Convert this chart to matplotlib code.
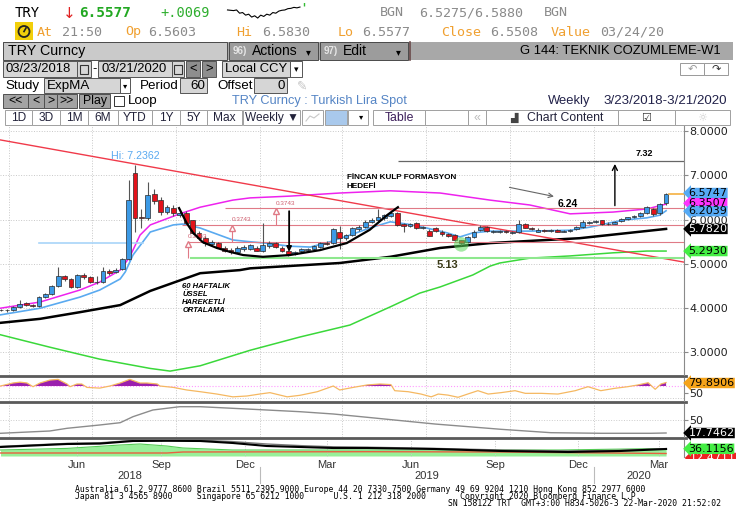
import numpy as np
import matplotlib
matplotlib.use("Agg")
import matplotlib.pyplot as plt
from matplotlib.patches import Rectangle, Circle

plt.rcParams['font.family'] = ['Liberation Sans', 'DejaVu Sans']

# ---- weekly candles, 23 Mar 2018 .. 20 Mar 2020 (105 weeks) ----
start_date = np.datetime64('2018-03-23')
opens = [
    3.97, 3.97, 3.96, 4.03, 4.12, 4.08, 4.05, 4.25, 4.32, 4.50,
    4.72, 4.66, 4.48, 4.75, 4.70, 4.59, 4.59, 4.84, 4.81, 4.88,
    5.11, 7.06, 6.05, 6.04, 6.58, 6.44, 6.17, 6.27, 6.10, 6.16,
    5.98, 5.70, 5.58, 5.46, 5.48, 5.37, 5.32, 5.27, 5.33, 5.34,
    5.35, 5.30, 5.40, 5.47, 5.36, 5.29, 5.23, 5.28, 5.31, 5.34,
    5.39, 5.48, 5.47, 5.73, 5.58, 5.65, 5.78, 5.84, 5.95, 6.00,
    6.03, 6.08, 6.16, 5.89, 5.85, 5.92, 5.80, 5.74, 5.80, 5.73,
    5.67, 5.66, 5.53, 5.50, 5.61, 5.76, 5.84, 5.71, 5.72, 5.74,
    5.70, 5.72, 5.90, 5.82, 5.73, 5.77, 5.75, 5.77, 5.73, 5.74,
    5.78, 5.83, 5.93, 5.95, 5.98, 5.90, 5.91, 5.97, 6.01, 6.05,
    6.08, 6.15, 6.24, 6.15, 6.37]
closes = [
    3.95, 3.95, 4.03, 4.09, 4.07, 4.05, 4.25, 4.32, 4.50, 4.72,
    4.66, 4.48, 4.75, 4.70, 4.59, 4.60, 4.84, 4.79, 4.87, 5.11,
    6.44, 6.03, 6.03, 6.55, 6.42, 6.17, 6.28, 6.14, 6.16, 5.92,
    5.70, 5.58, 5.47, 5.50, 5.37, 5.30, 5.27, 5.37, 5.38, 5.42,
    5.30, 5.42, 5.47, 5.39, 5.28, 5.22, 5.27, 5.33, 5.34, 5.40,
    5.48, 5.46, 5.78, 5.58, 5.65, 5.80, 5.84, 5.95, 6.00, 6.06,
    6.10, 6.14, 5.88, 5.85, 5.89, 5.81, 5.83, 5.64, 5.74, 5.67,
    5.64, 5.55, 5.47, 5.61, 5.73, 5.84, 5.74, 5.74, 5.74, 5.72,
    5.73, 5.90, 5.82, 5.79, 5.77, 5.75, 5.76, 5.73, 5.75, 5.77,
    5.83, 5.95, 5.95, 5.96, 5.90, 5.91, 5.94, 6.01, 6.05, 6.08,
    6.15, 6.29, 6.13, 6.35, 6.58]
highs = [
    3.99, 3.99, 4.05, 4.19, 4.14, 4.10, 4.27, 4.35, 4.52, 4.93,
    4.76, 4.69, 4.78, 4.79, 4.72, 4.72, 4.93, 4.88, 4.90, 5.14,
    6.89, 7.24, 6.23, 6.86, 6.69, 6.50, 6.32, 6.32, 6.22, 6.20,
    6.00, 5.75, 5.62, 5.53, 5.50, 5.40, 5.35, 5.41, 5.43, 5.45,
    5.40, 5.93, 5.52, 5.50, 5.40, 5.31, 5.30, 5.36, 5.37, 5.43,
    5.50, 5.52, 5.82, 5.86, 5.68, 5.83, 5.87, 5.98, 6.03, 6.25,
    6.12, 6.18, 6.18, 5.92, 5.93, 5.95, 5.86, 5.78, 5.83, 5.76,
    5.70, 5.68, 5.55, 5.63, 5.76, 5.87, 5.86, 5.77, 5.77, 5.77,
    5.75, 5.98, 5.93, 5.84, 5.80, 5.79, 5.79, 5.79, 5.77, 5.79,
    5.85, 5.98, 5.97, 5.98, 6.00, 5.94, 5.96, 6.03, 6.07, 6.10,
    6.17, 6.31, 6.26, 6.38, 6.60]
lows = [
    3.93, 3.92, 3.94, 4.01, 4.05, 4.03, 4.03, 4.23, 4.30, 4.47,
    4.62, 4.45, 4.46, 4.66, 4.56, 4.55, 4.57, 4.76, 4.79, 4.86,
    5.08, 5.73, 5.80, 6.00, 6.35, 6.10, 6.12, 6.08, 6.05, 5.90,
    5.68, 5.55, 5.40, 5.43, 5.35, 5.27, 5.22, 5.25, 5.30, 5.31,
    5.28, 5.27, 5.37, 5.35, 5.26, 5.18, 5.21, 5.26, 5.29, 5.32,
    5.37, 5.43, 5.45, 5.33, 5.55, 5.62, 5.75, 5.82, 5.93, 5.97,
    6.00, 6.05, 5.85, 5.73, 5.83, 5.78, 5.78, 5.62, 5.72, 5.64,
    5.61, 5.52, 5.42, 5.48, 5.59, 5.74, 5.72, 5.69, 5.70, 5.70,
    5.68, 5.70, 5.80, 5.77, 5.71, 5.73, 5.73, 5.71, 5.71, 5.72,
    5.76, 5.81, 5.91, 5.93, 5.87, 5.88, 5.89, 5.95, 5.99, 6.03,
    6.06, 6.13, 6.08, 6.10, 6.34]

# ---- study lines (week index, value) ----
fast_x = [0, 6.2, 12.4, 15.5, 18.7, 19.5, 20.7, 23.4, 27, 28.5, 31.2, 36.3, 39, 41.3,
          45.2, 48.4, 51.5, 54.6, 57.7, 60.9, 63.5, 66.6, 69.8, 71.8, 73.8, 76.5,
          82.7, 89, 92.1, 97.3, 101, 103, 104]
fast_y = [3.85, 4.0, 4.25, 4.41, 4.66, 4.82, 5.2, 5.72, 5.88, 5.9, 5.81, 5.54, 5.5, 5.47,
          5.4, 5.38, 5.5, 5.65, 5.81, 5.95, 5.9, 5.81, 5.70, 5.61, 5.70, 5.74,
          5.74, 5.76, 5.83, 5.99, 6.04, 6.1, 6.20]
mag_x = [0, 6.2, 12.4, 15.5, 18.7, 20.2, 21.8, 23.4, 28, 31.2, 36.3, 39, 45.2, 53,
         60.9, 68.7, 76.5, 82.7, 89, 95.7, 101, 104]
mag_y = [4.0, 4.14, 4.41, 4.59, 4.86, 5.16, 5.65, 5.88, 6.13, 6.28, 6.44, 6.49, 6.53, 6.6,
         6.65, 6.6, 6.44, 6.33, 6.13, 6.17, 6.24, 6.35]
ema60_x = [0, 6.2, 12.4, 18.7, 23.4, 31.2, 37.4, 39, 53, 60.9, 68.7, 76.5, 90.5, 104]
ema60_y = [3.67, 3.76, 3.91, 4.07, 4.39, 4.79, 4.86, 4.90, 5.02, 5.16, 5.36, 5.47, 5.58, 5.79]
green_x = [0, 7.7, 15.5, 23.4, 26.5, 31.2, 39, 46.8, 54.6, 60.9, 65.5, 68.7, 73.8, 76.5,
           78, 82.7, 89, 95.7, 101, 104]
green_y = [3.40, 3.12, 2.85, 2.64, 2.58, 2.70, 3.05, 3.35, 3.62, 4.03, 4.34, 4.48, 4.75, 4.95,
           5.02, 5.13, 5.18, 5.25, 5.29, 5.29]

# ---- lower panels ----
rsi_x = [0, 1.95, 3.05, 4.14, 5.08, 6.17, 7.73, 8.98, 10.4, 10.86, 11.95, 12.7, 13.5, 15.5,
         17.1, 18.7, 20.2, 21.8, 22.9, 24.5, 24.9, 27, 29.1, 31.2, 33.8, 36.3, 38.5, 40.5,
         42.1, 44.8, 46.8, 49.5, 52, 53, 55.1, 57.3, 59.3, 61, 61.6, 63.7, 65.7, 67.3, 68.4,
         69.9, 71.5, 73, 74.6, 76.2, 78.2, 80.4, 82, 84.5, 87.1, 89.8, 91.8, 93.8, 96, 98,
         99.6, 101.2, 102.3, 103.2, 104]
rsi_y = [70, 78.6, 81, 78.6, 68, 78.6, 87, 89, 75.7, 68, 75.7, 75.7, 66, 64,
         70, 78.6, 89, 78.6, 78.6, 75.7, 70, 66, 58.6, 53.7, 47, 39, 41.4, 47,
         51, 39, 43.4, 53.7, 70, 58.6, 66, 73, 75.7, 74, 56.6, 53.7, 47, 39, 47,
         44, 37.7, 47, 56.6, 47, 51, 56.6, 49, 49, 47, 56.6, 68, 56.6, 63.4, 68,
         73, 79.4, 60.6, 75.7, 79.9]
adx_x = [0, 7.7, 10.4, 15.5, 18.7, 20.7, 23.8, 28, 31.2, 36.3, 41.6, 46.8, 52, 57.3,
         67.9, 78.2, 86, 93.8, 101.6, 104]
adx_y = [17, 22.7, 29.4, 37.6, 43.3, 58.2, 74.8, 83, 83, 79, 74.8, 70.6, 64.9, 56.7,
         40, 26.9, 18.5, 17, 17, 17.75]
dmi_x = [0, 10.4, 15.5, 20.7, 26, 31.2, 36.3, 41.6, 46.8, 52, 57.3, 67.9, 78.2, 88.7, 96.8, 104]
dmi_blk = [45, 60, 62, 75, 76, 75, 65, 50, 45, 40, 40, 35, 25, 20, 25, 35]
dmi_gry = [48, 63, 66, 78, 80, 79, 72, 60, 52, 46, 44, 38, 30, 25, 28, 37]
dplus_x = [0, 10.4, 18.7, 21.8, 26, 28.5, 36.3, 57.3, 78.2, 87.4, 101.2, 104]
dplus_y = [30, 38, 55, 60, 50, 40, 30, 30, 30, 30, 36.5, 36.1]
dminus_x = [0, 26, 28.5, 57.3, 78, 104]
dminus_y = [15, 15, 20, 21.5, 20, 12.5]

# ---- annotations ----
fib_levels = [5.13, 5.5043, 5.8786, 6.2529]
fib_start = [29.6, 29.3, 28.4, 35.1]
cup_x = [27.9, 29.1, 30.1, 31.6, 33.8, 35.9, 37.9, 41.0, 45.2, 49.9, 54.1, 57.7, 60.4, 62.1]
cup_y = [6.26, 5.92, 5.70, 5.49, 5.36, 5.27, 5.20, 5.16, 5.20, 5.31, 5.47, 5.77, 6.10, 6.28]
trend_x = [-0.08, 106.8]
trend_y = [7.80, 5.04]
target = 7.32
spark = [0.62, 0.60, 0.58, 0.62, 0.42, 0.46, 0.30, 0.36, 0.18, 0.26, 0.12, 0.30, 0.22,
         0.36, 0.30, 0.46, 0.42, 0.55, 0.60, 0.62, 0.70, 0.72, 0.78, 0.75, 0.80]

W, H = 736, 530
fig = plt.figure(figsize=(W / 100, H / 100), dpi=100)
fig.patch.set_facecolor('white')


def axes_px(x0, y0, x1, y1):
    return fig.add_axes([x0 / W, 1 - y1 / H, (x1 - x0) / W, (y1 - y0) / H])


def week_pos(d):
    return (np.datetime64(d) - start_date) / np.timedelta64(7, 'D')


bg = axes_px(0, 0, W, H)
bg.set_xlim(0, W)
bg.set_ylim(H, 0)
bg.axis('off')


def box(x0, y0, x1, y1, fc, ec='#555555', lw=0.7, z=1):
    bg.add_patch(Rectangle((x0, y0), x1 - x0, y1 - y0, fc=fc, ec=ec, lw=lw, zorder=z))


def put(x, y, s, size=9.4, color='black', **kw):
    bg.text(x, y, s, fontsize=size, color=color, va='center', zorder=3, **kw)


MONO = 'DejaVu Sans Mono'
# header line 1 and 2
put(15, 13, 'TRY', size=10, family=MONO)
put(63, 13, '↓', size=11, color='#e02020', family='DejaVu Sans')
put(79, 13, '6.5577', size=10.4, color='#22a822', family=MONO, weight='bold')
put(160, 13, '+.0069', size=9.8, color='#2eae2e', family=MONO)
put(380, 13, 'BGN', size=9.6, color='#8a8a8a', family=MONO)
put(419, 13, '6.5275/6.5880', size=9.6, color='#8a8a8a', family=MONO)
put(544, 13, 'BGN', size=9.6, color='#8a8a8a', family=MONO)
sp = axes_px(226, 3, 306, 20)
sp.plot(range(len(spark)), spark, color='black', lw=0.8)
sp.plot([len(spark) + 0.4], [0.98], marker='|', color='#33bb33', ms=3)
sp.set_xlim(-0.5, len(spark) + 1)
sp.set_ylim(0, 1.05)
sp.axis('off')

box(15, 22, 33, 40, '#f2cf0a', ec='none')
bg.add_patch(Circle((24, 31.5), 5.5, fc='none', ec='#222222', lw=1.3, zorder=3))
bg.plot([24, 26], [31.5, 28], color='#222222', lw=1.2, zorder=3)
row2 = [(37, 'At', '#f0a030'), (62, '21:50', '#8a8a8a'), (125, 'Op', '#f0a030'),
        (148, '6.5603', '#8a8a8a'), (236, 'Hi', '#f0a030'), (262, '6.5830', '#8a8a8a'),
        (338, 'Lo', '#f0a030'), (362, '6.5577', '#8a8a8a'), (441, 'Close', '#f0a030'),
        (490, '6.5508', '#8a8a8a'), (551, 'Value', '#f0a030'), (600, '03/24/20', '#8a8a8a')]
for x, s, c in row2:
    put(x, 32, s, size=9.6, color=c, family=MONO)

# header bar
box(3, 42, 733, 60, '#a8a8a8', ec='none')
box(3, 42, 227, 60, '#cacaca', ec='#4a4a4a')
put(8, 51, 'TRY Curncy', size=10.3)
box(229, 42, 318, 60, '#9c9c9c', ec='#4a4a4a')
put(233, 51, '96)', size=7, color='#e6e6e6', weight='bold')
put(252, 51, 'Actions', size=10)
put(306, 52, '▾', size=7)
box(320, 42, 408, 60, '#9c9c9c', ec='#4a4a4a')
put(324, 51, '97)', size=7, color='#e6e6e6', weight='bold')
put(343, 51, 'Edit', size=10)
put(396, 52, '▾', size=7)
bg.plot([410, 410], [42, 60], color='#6a4a4a', lw=1.2, zorder=3)
put(721, 51, 'G 144: TEKNIK COZUMLEME-W1', size=9.4, ha='right')

# date row
box(3, 61, 77, 77, '#d6d6d6')
put(6, 69, '03/23/2018', size=9.4)
box(77, 61, 91, 77, '#d6d6d6')
box(80, 65, 88, 74, 'none', ec='#333333', lw=0.8, z=2)
put(92, 69, '-', size=9.4)
box(98, 61, 172, 77, '#d6d6d6')
put(101, 69, '03/21/2020', size=9.4)
box(172, 61, 184, 77, '#d6d6d6')
box(174, 65, 182, 74, 'none', ec='#333333', lw=0.8, z=2)
box(186, 61, 200, 77, '#8e8e8e')
put(193, 69, '<', ha='center')
box(202, 61, 216, 77, '#8e8e8e')
put(209, 69, '>', ha='center')
box(222, 61, 290, 77, '#d6d6d6')
put(225, 69, 'Local CCY', size=9.4)
box(290, 61, 302, 77, 'white')
put(296, 70, '▾', size=6.5, ha='center')
box(680, 63, 704, 75, 'white', ec='#999999')
put(692, 69, '↶', size=8, color='#9a9a9a', ha='center', family='DejaVu Sans')
box(704, 63, 728, 75, 'white', ec='#999999')
put(716, 69, '↷', size=8, color='#333333', ha='center', family='DejaVu Sans')

# study row
put(5, 86, 'Study', size=9.6)
box(44, 78, 120, 93, '#d6d6d6')
put(47, 86, 'ExpMA', size=9.6)
box(120, 78, 130, 93, 'white')
put(125, 87, '▾', size=6, ha='center')
put(140, 86, 'Period', size=9.6)
box(180, 78, 207, 93, '#d6d6d6')
put(205, 86, '60', size=9.6, ha='right')
put(217, 86, 'Offset', size=9.6)
box(254, 78, 287, 93, '#d6d6d6')
put(285, 86, '0', size=9.6, ha='right')
put(297, 86, '✎', size=9, color='#c4c4c4', family='DejaVu Sans')

# play row
for x0, x1, s in [(3, 28, '<<'), (28, 44, '<'), (44, 57, '>'), (57, 77, '>>'), (79, 110, 'Play')]:
    box(x0, 94, x1, 108, '#a3a3a3', ec='#4f4f4f')
    put((x0 + x1) / 2, 101, s, size=8.8, ha='center')
box(114, 96, 124, 106, 'white', ec='#333333')
put(128, 101, 'Loop', size=9.6)
put(232, 101, 'TRY Curncy : Turkish Lira Spot', size=9.2, color='#5585c5')
put(548, 101, 'Weekly', size=9.4, color='#22224a')
put(603, 101, '3/23/2018-3/21/2020', size=9.6, color='#22224a')

# toolbar
tools = [(5, 32, '1D'), (32, 60, '3D'), (60, 88, '1M'), (88, 118, '6M'), (118, 152, 'YTD'),
         (152, 180, '1Y'), (180, 207, '5Y'), (207, 242, 'Max'), (243, 300, 'Weekly ▼')]
for x0, x1, s in tools:
    box(x0, 110, x1, 125, 'white', ec='#a0a0a0')
    put((x0 + x1) / 2, 118, s, size=8.6, color='#22223a', ha='center')
box(302, 110, 323, 125, 'white', ec='#a0a0a0')
bg.plot([306, 310, 314, 319], [121, 116, 118, 114], color='#c8c8c8', lw=0.8, zorder=3)
box(325, 110, 347, 125, '#a9c9ec', ec='#a0a0a0')
box(348, 110, 368, 125, 'white', ec='#a0a0a0')
put(361, 118, '▾', size=6, ha='center')
box(373, 110, 425, 125, 'white', ec='#a0a0a0')
put(399, 118, 'Table', size=8.8, color='#3c1e5a', ha='center')
box(425, 110, 468, 125, 'white', ec='#a0a0a0')
box(468, 110, 486, 125, 'white', ec='#a0a0a0')
put(477, 118, '«', size=9, color='#bbbbbb', ha='center')
box(486, 110, 618, 125, 'white', ec='#a0a0a0')
put(527, 118, 'Chart Content', size=8.8, color='#22223a')
put(510, 118, '▟', size=7, color='#444444', family='DejaVu Sans')
box(618, 110, 675, 125, 'white', ec='#a0a0a0')
put(646, 118, '☑', size=8, color='#333333', ha='center', family='DejaVu Sans')
box(675, 110, 730, 125, 'white', ec='#a0a0a0')
put(702, 118, '☼', size=8, color='#cccccc', ha='center', family='DejaVu Sans')

# panel separators and footer
for y in [376, 402, 438]:
    bg.plot([0, 686], [y, y], color='#5a5a5a', lw=2.0, zorder=2)
bg.text(690, 458, '12.4711', fontsize=8, family='DejaVu Sans', color='white', va='center',
        bbox=dict(boxstyle='larrow,pad=0.02', fc='#ee2222', ec='none'), zorder=4)
box(685, 458.5, 736, 472, 'white', ec='none', z=5)

foot = ['Australia 61 2 9777 8600 Brazil 5511 2395 9000 Europe 44 20 7330 7500 Germany 49 69 9204 1210 Hong Kong 852 2977 6000',
        'Japan 81 3 4565 8900     Singapore 65 6212 1000      U.S. 1 212 318 2000       Copyright 2020 Bloomberg Finance L.P.']
put(75, 489.5, foot[0], size=5.9, family=MONO)
put(75, 496.5, foot[1], size=5.9, family=MONO)
put(448, 503.5, 'SN 158122 TRT  GMT+3:00 H834-5026-3 22-Mar-2020 21:52:02', size=5.9, family=MONO)

# ---- chart panels ----
x_lo, x_hi = -0.08, 106.8
quarters = [week_pos(d) for d in ['2018-04-01', '2018-07-01', '2018-10-01', '2019-01-01',
                                  '2019-04-01', '2019-07-01', '2019-10-01', '2020-01-01']]


def style(a, ylim):
    a.set_facecolor('none')
    a.set_xlim(x_lo, x_hi)
    a.set_ylim(*ylim)
    for s in ['top', 'left', 'bottom']:
        a.spines[s].set_visible(False)
    a.spines['right'].set_color('#8a8a8a')
    a.spines['right'].set_linewidth(0.8)
    a.yaxis.tick_right()
    a.tick_params(axis='y', direction='out', length=3, width=0.8, colors='#8a8a8a',
                  labelcolor='#222222', labelsize=8, pad=1)
    a.set_xticks(quarters)
    a.tick_params(axis='x', length=0, labelbottom=False)
    a.grid(True, axis='x', ls=':', color='#c8c8c8', lw=0.7)
    for lab in a.get_yticklabels():
        lab.set_family('DejaVu Sans')


def tag(a, v, s, fc, tc='black'):
    a.annotate(s, xy=(1, v), xycoords=('axes fraction', 'data'), xytext=(3.2, 0),
               textcoords='offset points', ha='left', va='center', fontsize=8, color=tc,
               family='DejaVu Sans', bbox=dict(boxstyle='larrow,pad=0.02', fc=fc, ec='none'),
               annotation_clip=False, zorder=10)


ax = axes_px(0, 126, 684, 375)
style(ax, (2.492, 8.113))
ax.set_yticks([3, 4, 5, 6, 7, 8])
ax.set_yticklabels(['%.4f' % v for v in [3, 4, 5, 6, 7, 8]], family='DejaVu Sans')
ax.grid(True, axis='y', ls=':', color='#c8c8c8', lw=0.7)

o = np.array(opens)
c = np.array(closes)
wk = np.arange(len(c))
up = c >= o
ax.vlines(wk, lows, highs, color='#555555', lw=0.8, zorder=3)
ax.bar(wk, np.maximum(np.abs(c - o), 0.012), bottom=np.minimum(o, c), width=0.75,
       color=np.where(up, '#3c9ae6', '#e3121b'), edgecolor='#2b2b2b', linewidth=0.5, zorder=4)

ax.plot(green_x, green_y, color='#3ad83a', lw=1.1, zorder=2)
ax.plot(ema60_x, ema60_y, color='black', lw=1.8, zorder=2)
ax.plot(mag_x, mag_y, color='#ee22ee', lw=1.1, zorder=2)
ax.plot(fast_x, fast_y, color='#5aaaf0', lw=1.2, zorder=2)
ax.plot(trend_x, trend_y, color='#f03a4a', lw=1.0, zorder=2)
ax.plot([6, 22.3], [5.47, 5.47], color='#a8d4f8', lw=1.2, zorder=2)

for lev, x0 in zip(fib_levels, fib_start):
    col = '#8ee88e' if lev == fib_levels[0] else '#e07a86'
    ax.hlines(lev, x0, x_hi, color=col, lw=1.5 if lev == fib_levels[0] else 0.8, zorder=2)
for xv, k in [(29.3, 0), (36.1, 1), (43.05, 2)]:
    ax.vlines(xv, fib_levels[k], fib_levels[k + 1], color='#e07a86', lw=0.8, zorder=2)
    ax.plot(xv, fib_levels[k + 1] - 0.06, marker='^', mfc='white', mec='#e07a86', ms=4.5, zorder=5)
    ax.text(xv, fib_levels[k + 1] + 0.06, '%.4f' % (fib_levels[k + 1] - fib_levels[k]),
            fontsize=4.6, color='#d06070', va='bottom', zorder=5)

ax.plot(cup_x, cup_y, color='black', lw=1.6, zorder=5)
ax.annotate('', xy=(45.1, 5.21), xytext=(45.1, fib_levels[3]),
            arrowprops=dict(arrowstyle='-|>', color='black', lw=1.3, mutation_scale=7), zorder=6)
ax.hlines(target, 62.1, x_hi, color='#666666', lw=0.9, zorder=2)
ax.annotate('', xy=(96, target), xytext=(96, fib_levels[3]),
            arrowprops=dict(arrowstyle='->', color='black', lw=1.0, mutation_scale=9), zorder=6)
ax.annotate('', xy=(86.9, 6.51), xytext=(79.1, 6.74),
            arrowprops=dict(arrowstyle='->', color='#666666', lw=0.8, mutation_scale=8), zorder=6)
ax.text(87.1, 6.36, '6.24', fontsize=7.5, weight='bold', va='center', zorder=6)
ax.text(99.2, 7.50, '7.32', fontsize=6.5, weight='bold', va='center', zorder=6)
ax.text(68.2, 4.98, '5.13', fontsize=8, weight='bold', color='#3a3a18', va='center', zorder=6)
ax.text(54.1, 6.95, 'FİNCAN KULP FORMASYON', fontsize=5.9, weight='bold', va='center', zorder=6)
ax.text(54.1, 6.74, 'HEDEFİ', fontsize=5.9, weight='bold', va='center', zorder=6)
ax.text(28.4, 4.56, '60 HAFTALIK\nÜSSEL\nHAREKETLİ\nORTALAMA', fontsize=5.5, weight='bold',
        style='italic', va='top', linespacing=1.15, zorder=6)
ax.text(17.3, 7.44, 'Hi: 7.2362', fontsize=7.7, color='#5aaaf0', va='center', zorder=6)
ax.scatter([72], [5.44], s=110, color='#5ad85a', alpha=0.55, edgecolors='none', zorder=6)
ax.plot([104.4, x_hi], [6.5747, 6.5747], color='#f5b041', lw=1.2, clip_on=False, zorder=5)

tag(ax, 6.60, '6.5747', '#55aaf5')
tag(ax, 6.37, '6.3507', '#ff33ff')
tag(ax, 6.19, '6.2039', '#55aaf5')
tag(ax, 5.79, '5.7820', 'black', 'white')
tag(ax, 5.29, '5.2930', '#44ee44')

# RSI-style panel
ax2 = axes_px(0, 378, 684, 401)
style(ax2, (27.1, 92.9))
ax2.set_yticks([50])
ax2.axhline(70, color='#ff99ff', ls=':', lw=0.8)
ax2.axhline(35, color='#cccccc', ls=':', lw=0.7)
rx = np.array(rsi_x)
ry = np.array(rsi_y)
ax2.fill_between(rx, 70, ry, where=ry > 70, interpolate=True, color='#9b1fae', lw=0)
ax2.plot(rx, ry, color='#f5b861', lw=0.9)
tag(ax2, 78.6, '79.8906', '#f5a31a')

# trend strength panel
ax3 = axes_px(0, 404, 684, 437)
style(ax3, (7.8, 89.7))
ax3.set_yticks([50])
ax3.axhline(50, color='#cccccc', ls=':', lw=0.7)
ax3.plot(adx_x, adx_y, color='#8c8c8c', lw=1.0)
tag(ax3, 17.75, '17.7462', 'black', 'white')

# directional panel
ax4 = axes_px(0, 440, 684, 457)
style(ax4, (-5, 80))
ax4.set_yticks([])
ax4.fill_between(dplus_x, 0, dplus_y, color='#98f098', lw=0)
ax4.plot(dplus_x, dplus_y, color='#55cc55', lw=0.8)
ax4.plot(dminus_x, dminus_y, color='#e86040', lw=1.0)
ax4.plot(dmi_x, dmi_gry, color='#777777', lw=1.0)
ax4.plot(dmi_x, dmi_blk, color='black', lw=1.5)
tag(ax4, 36.1, '36.1156', '#44ee44')

months = ['2018-06-15', '2018-09-15', '2018-12-15', '2019-03-15',
          '2019-06-15', '2019-09-15', '2019-12-15', '2020-03-12']
month_names = ['Jun', 'Sep', 'Dec', 'Mar', 'Jun', 'Sep', 'Dec', 'Mar']
ax4.set_xticks([week_pos(d) for d in months])
ax4.set_xticklabels(month_names)
ax4.tick_params(axis='x', length=0, pad=2, labelbottom=True, labelsize=8, labelcolor='#333333')
y19 = week_pos('2019-01-01')
y20 = week_pos('2020-01-01')
for xv, lab in [((x_lo + y19) / 2, '2018'), ((y19 + y20) / 2, '2019'), ((y20 + x_hi) / 2, '2020')]:
    ax4.annotate(lab, xy=(xv, 0), xycoords=('data', 'axes fraction'), xytext=(0, -14),
                 textcoords='offset points', ha='center', va='center', fontsize=8, color='#333333')
for xv in [y19, y20]:
    ax4.axvline(xv, ymin=-1.5, ymax=-0.6, clip_on=False, color='#bbbbbb', lw=0.8)

fig.savefig('out.png', dpi=100)
